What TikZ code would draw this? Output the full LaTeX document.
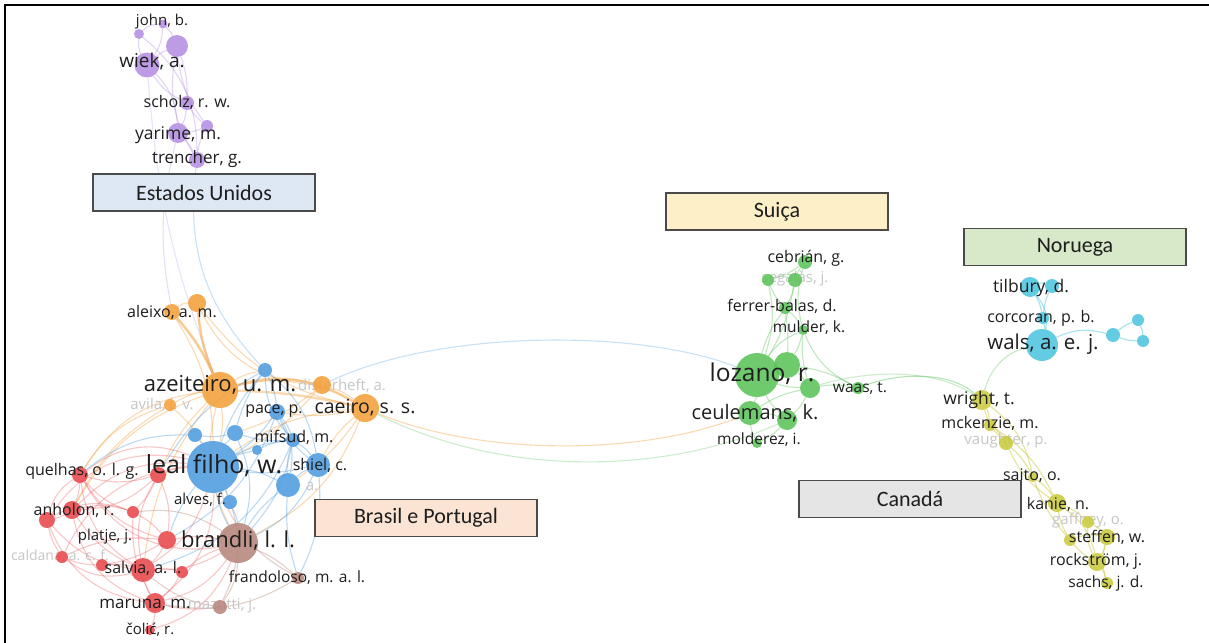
\documentclass[tikz,border=0pt]{standalone}
\usepackage{fontspec}
\newfontfamily\labfont{Open Sans}
\newfontfamily\boxfont{Carlito}
\pgfdeclarelayer{paper}
\pgfdeclarelayer{edges}
\pgfdeclarelayer{faint}
\pgfsetlayers{paper,edges,faint,main}

\definecolor{cpur}{HTML}{B48FE2}
\definecolor{cora}{HTML}{F4A03A}
\definecolor{cblu}{HTML}{4F9DE0}
\definecolor{cred}{HTML}{E8474C}
\definecolor{cbro}{HTML}{B7867A}
\definecolor{cgre}{HTML}{5CC35A}
\definecolor{ccya}{HTML}{4EC6E0}
\definecolor{cyel}{HTML}{CACA3E}
\definecolor{ink}{HTML}{1E1E1E}
\definecolor{fade}{HTML}{C6C6C6}
\definecolor{bxblue}{HTML}{DDE8F4}
\definecolor{bxyel}{HTML}{FDF0C9}
\definecolor{bxgreen}{HTML}{D8E9C9}
\definecolor{bxgray}{HTML}{E5E5E5}
\definecolor{bxpeach}{HTML}{FBE4D4}
\definecolor{bxline}{HTML}{4A4A4A}

\tikzset{
  vn/.style n args={2}{circle, inner sep=0pt, draw=none, fill=#1, fill opacity=0.88, minimum size=2*#2},
  lbl/.style={font=\labfont\fontsize{#1}{#1}\selectfont, text=ink, inner sep=0pt},
  dim/.style={font=\labfont\fontsize{#1}{#1}\selectfont, text=fade, inner sep=0pt},
  ed/.style={draw=#1, draw opacity=0.38, line width=1.1pt},
  thick ed/.style={draw=#1, draw opacity=0.55, line width=2.4pt},
  country/.style={draw=bxline, line width=1.1pt, minimum width=222pt, minimum height=37pt,
    inner sep=0pt, font=\boxfont\fontsize{22}{22}\selectfont, text=ink},
}

\begin{document}
\begin{tikzpicture}[x=1pt,y=-1pt]
\useasboundingbox (0,0) rectangle (1209,642);
\begin{pgfonlayer}{paper}
\fill[white] (0,0) rectangle (1209,642);
\end{pgfonlayer}

% ---------- nodes: purple cluster
\node[vn={cpur}{5}]   (pJ1)  at (139,34) {};
\node[vn={cpur}{4.5}] (pJ2)  at (163,24) {};
\node[vn={cpur}{11}]  (pW2)  at (177,46) {};
\node[vn={cpur}{12.5}](pWiek) at (147,65) {};
\node[vn={cpur}{7}]   (pSch) at (187,103) {};
\node[vn={cpur}{6}]   (pY2)  at (207,126) {};
\node[vn={cpur}{10}]  (pYar) at (178,133) {};
\node[vn={cpur}{8}]   (pTre) at (197,160) {};

% ---------- orange cluster
\node[vn={cora}{8}]  (oAl1) at (172,312) {};
\node[vn={cora}{9}]  (oAl2) at (197,303) {};
\node[vn={cora}{18}] (oAze) at (220,390) {};
\node[vn={cora}{6}]  (oAvi) at (170,405) {};
\node[vn={cora}{9}]  (oDis) at (322,385) {};
\node[vn={cora}{14}] (oCae) at (365,408) {};

% ---------- blue cluster
\node[vn={cblu}{26}] (bLeal) at (213,467) {};
\node[vn={cblu}{7}]  (b1)    at (265,370) {};
\node[vn={cblu}{8}]  (bPace) at (277,412) {};
\node[vn={cblu}{8}]  (b2)    at (235,433) {};
\node[vn={cblu}{7}]  (b3)    at (195,435) {};
\node[vn={cblu}{7}]  (bMif)  at (293,440) {};
\node[vn={cblu}{5}]  (b4)    at (257,450) {};
\node[vn={cblu}{12}] (bShi)  at (318,465) {};
\node[vn={cblu}{12}] (b5)    at (288,485) {};
\node[vn={cblu}{7}]  (bAlv)  at (230,502) {};

% ---------- red cluster
\node[vn={cred}{8}]  (rQue) at (80,475) {};
\node[vn={cred}{8}]  (rR1)  at (158,475) {};
\node[vn={cred}{9}]  (rAnh) at (72,510) {};
\node[vn={cred}{8}]  (rR2)  at (47,520) {};
\node[vn={cred}{6}]  (rR3)  at (133,512) {};
\node[vn={cred}{9}]  (rPla) at (167,540) {};
\node[vn={cred}{6}]  (rCal) at (62,557) {};
\node[vn={cred}{6}]  (rR4)  at (102,565) {};
\node[vn={cred}{12}] (rSal) at (143,570) {};
\node[vn={cred}{6}]  (rR5)  at (182,572) {};
\node[vn={cred}{10}] (rMar) at (155,603) {};
\node[vn={cred}{5}]  (rCol) at (150,630) {};

% ---------- brown cluster
\node[vn={cbro}{20}] (nBra) at (238,543) {};
\node[vn={cbro}{6}]  (nFra) at (298,578) {};
\node[vn={cbro}{7}]  (nMaz) at (220,607) {};

% ---------- green cluster
\node[vn={cgre}{7}]  (gCeb)  at (805,262) {};
\node[vn={cgre}{6}]  (gSeg1) at (768,280) {};
\node[vn={cgre}{7}]  (gSeg2) at (795,280) {};
\node[vn={cgre}{6}]  (gFer)  at (785,308) {};
\node[vn={cgre}{5}]  (gMul)  at (803,330) {};
\node[vn={cgre}{22}] (gLoz)  at (757,375) {};
\node[vn={cgre}{13}] (gL2)   at (787,365) {};
\node[vn={cgre}{10}] (gG3)   at (810,388) {};
\node[vn={cgre}{6}]  (gWaas) at (858,388) {};
\node[vn={cgre}{12}] (gCeu)  at (750,413) {};
\node[vn={cgre}{10}] (gC2)   at (787,420) {};
\node[vn={cgre}{5}]  (gMol)  at (757,443) {};

% ---------- cyan cluster
\node[vn={ccya}{10}] (cTil)  at (1030,287) {};
\node[vn={ccya}{7}]  (cT2)   at (1052,286) {};
\node[vn={ccya}{6}]  (cCor)  at (1043,318) {};
\node[vn={ccya}{16}] (cWals) at (1042,345) {};
\node[vn={ccya}{7}]  (cK1)   at (1113,335) {};
\node[vn={ccya}{6}]  (cK2)   at (1138,320) {};
\node[vn={ccya}{6}]  (cK3)   at (1143,341) {};

% ---------- yellow cluster
\node[vn={cyel}{10}] (yWri) at (982,400) {};
\node[vn={cyel}{6}]  (yMck) at (990,425) {};
\node[vn={cyel}{7}]  (yVau) at (1006,443) {};
\node[vn={cyel}{5}]  (ySai) at (1033,477) {};
\node[vn={cyel}{9}]  (yKan) at (1057,503) {};
\node[vn={cyel}{6}]  (yGaf) at (1088,522) {};
\node[vn={cyel}{6}]  (ySt1) at (1070,540) {};
\node[vn={cyel}{8}]  (ySt2) at (1107,537) {};
\node[vn={cyel}{9}]  (yRoc) at (1097,562) {};
\node[vn={cyel}{6}]  (ySac) at (1107,583) {};

% ---------- links
\begin{pgfonlayer}{edges}
\foreach \a/\b/\c in {pJ1/pJ2/20, pJ1/pWiek/-15, pJ2/pW2/10, pJ2/pWiek/15, pWiek/pW2/10,
  pWiek/pSch/-15, pW2/pSch/10, pW2/pY2/-15, pSch/pYar/10, pSch/pY2/-10, pYar/pTre/10,
  pY2/pTre/-10, pWiek/pYar/20, pYar/pY2/-10, pJ1/pTre/25, pW2/pTre/-20}
  \draw[ed=cpur] (\a) to[bend left=\c] (\b);
\draw[ed=cblu, draw opacity=0.3] (pTre) to[bend right=25] (b1);
\draw[ed=cpur, draw opacity=0.3] (pYar) to[bend right=12] (oAl1);
\draw[ed=cpur, draw opacity=0.25] (pWiek) to[bend right=8] (oAze);

\foreach \a/\b/\c in {oAl1/oAl2/20, oAl2/oCae/-20, oAze/oDis/15, oDis/oCae/10,
  oAze/bLeal/10, oCae/bLeal/-15, oAze/oAvi/-10, oAvi/bLeal/10, oAze/b1/10, oCae/bPace/10,
  oAze/nBra/-20, oCae/b5/10, oCae/bShi/-10, oDis/bLeal/10, oAl1/bLeal/15, oAze/rQue/-25,
  oAze/rAnh/-20, oAze/rSal/-15, oAze/rR1/-10, oCae/nBra/20, oDis/b2/10, oAl2/oDis/-30,
  oAvi/rQue/-20, oAvi/rAnh/-15}
  \draw[ed=cora] (\a) to[bend left=\c] (\b);
\draw[thick ed=cora] (oAl1) to[bend left=8] (oAze);
\draw[thick ed=cora] (oAl2) to[bend right=8] (oAze);
\draw[thick ed=cora] (oAze) to[bend left=22] (oCae);
\draw[thick ed=cora, draw opacity=0.4] (oAze) to[bend left=5] (oCae);

\foreach \a/\b/\c in {bLeal/b1/10, bLeal/bPace/-10, bLeal/b2/5, bLeal/b3/-5, bLeal/bMif/10,
  bLeal/b4/5, bLeal/bShi/-10, bLeal/b5/10, bLeal/bAlv/5, b1/bPace/10, b1/b2/-10,
  bPace/bMif/10, bPace/bShi/-15, bMif/bShi/10, bMif/b5/-10, b2/b3/10, b4/bMif/10,
  b5/bShi/10, bAlv/nBra/10, bLeal/nBra/-10, bShi/nBra/20, b5/nBra/-10, bMif/nBra/15,
  b1/bShi/20, b3/rQue/-20, b2/bMif/-10, b1/bMif/-20, bPace/b5/20, bShi/nFra/15,
  b5/nFra/-10, bMif/rSal/25, b1/rR1/-15, bPace/rPla/20, bLeal/rPla/-10, b2/nBra/20}
  \draw[ed=cblu] (\a) to[bend left=\c] (\b);

\foreach \a/\b/\c in {rQue/rR1/-15, rQue/rAnh/10, rQue/rR2/-20, rAnh/rR2/10, rAnh/rR3/15,
  rAnh/rSal/-15, rR2/rCal/-10, rR2/rSal/-20, rR3/rPla/10, rPla/rSal/10, rCal/rR4/-10,
  rR4/rSal/10, rSal/rR5/10, rSal/rMar/-10, rMar/rCol/10, rR1/rPla/15, rR1/rSal/-20,
  rR1/rAnh/20, rQue/rSal/-25, rPla/nBra/10, rSal/nBra/-15, rMar/nBra/-20, rMar/nMaz/-10,
  rR5/nBra/10, rQue/bLeal/30, rAnh/bLeal/25, rR1/bLeal/10, rSal/bLeal/-20, rMar/bLeal/-25,
  rR2/bLeal/35, rCal/rPla/15, rR4/rPla/-10, rR3/rMar/-15, rR1/rR3/10, rQue/rR3/-15,
  rR2/rR3/25, rCal/rSal/-25, rR5/rMar/10, rQue/nBra/-35, rAnh/rMar/-30, rR2/rMar/-30,
  rCol/nBra/-25, rCal/bLeal/30, rQue/rPla/-20}
  \draw[ed=cred, draw opacity=0.3] (\a) to[bend left=\c] (\b);

\foreach \a/\b/\c in {nBra/nFra/10, nBra/nMaz/15, nMaz/rSal/15, nFra/bLeal/20,
  nMaz/bLeal/-25, nBra/rR3/-20, nFra/rMar/20}
  \draw[ed=cbro] (\a) to[bend left=\c] (\b);

% links between the Brazilian group and the Swiss group
\draw[ed=cblu, draw opacity=0.3] (oDis) .. controls (440,329) and (640,329) .. (gLoz);
\draw[ed=cora, draw opacity=0.4] (oCae) .. controls (480,456) and (640,456) .. (gCeu);
\draw[ed=cgre, draw opacity=0.3] (oCae) .. controls (500,476) and (660,476) .. (gC2);

\foreach \a/\b/\c in {gCeb/gSeg1/10, gCeb/gSeg2/-10, gSeg1/gSeg2/20, gSeg1/gFer/-10,
  gSeg2/gFer/10, gFer/gMul/10, gFer/gLoz/-10, gFer/gL2/5, gMul/gL2/10, gMul/gLoz/-15,
  gMul/gG3/-10, gMul/gWaas/-20, gLoz/gL2/10, gLoz/gG3/-10, gL2/gG3/10, gLoz/gCeu/10,
  gLoz/gC2/-10, gCeu/gC2/10, gCeu/gMol/-10, gG3/gWaas/10, gL2/gWaas/10, gCeu/gG3/10,
  gC2/gG3/-10, gSeg2/gLoz/10, gCeb/gMul/-15, gSeg1/gLoz/15, gC2/gMol/10}
  \draw[ed=cgre] (\a) to[bend left=\c] (\b);
\draw[ed=cgre, draw opacity=0.45] (gWaas) .. controls (900,372) and (950,372) .. (yWri);
\draw[ed=cgre, draw opacity=0.3] (gG3) .. controls (860,372) and (930,366) .. (yWri);
\draw[ed=cgre, draw opacity=0.35] (yWri) .. controls (990,370) and (1005,352) .. (cWals);

\foreach \a/\b/\c in {cTil/cT2/20, cTil/cCor/10, cT2/cCor/-10, cCor/cWals/10, cTil/cWals/25,
  cK1/cK2/10, cK1/cK3/-10, cK2/cK3/10, cWals/cK1/20}
  \draw[ed=ccya, draw opacity=0.5] (\a) to[bend left=\c] (\b);

\foreach \a/\b/\c in {yWri/yMck/10, yMck/yVau/10, yWri/yVau/-15, yVau/ySai/10, yVau/yKan/-15,
  ySai/yKan/10, yKan/yGaf/10, yKan/ySt1/-10, yGaf/ySt2/10, ySt1/ySt2/15, ySt1/yRoc/-10,
  ySt2/yRoc/10, yRoc/ySac/10, yGaf/yRoc/-15, yKan/yRoc/20, yWri/ySai/20, yMck/yKan/15,
  ySai/ySt1/-10, ySt2/ySac/-15}
  \draw[ed=cyel, draw opacity=0.5] (\a) to[bend left=\c] (\b);
\end{pgfonlayer}

% ---------- labels that are set back
\begin{pgfonlayer}{faint}
\node[dim=15] (tAvi) at (162,405) {avila, l. v.};
\node[dim=15] (tDis) at (342,386) {disterheft, a.};
\node[dim=15] (tA)   at (312,487) {a.};
\node[dim=14] (tCal) at (60,556) {caldana, a. c. f.};
\node[dim=15] (tMaz) at (222,606) {mazutti, j.};
\node[dim=15] (tSeg) at (795,279) {segalàs, j.};
\node[dim=15] (tVau) at (1006,441) {vaughter, p.};
\node[dim=15] (tGaf) at (1088,521) {gaffney, o.};
\end{pgfonlayer}

% ---------- labels
\node[lbl=15] (tJohn) at (162,22) {john, b.};
\node[lbl=19] (tWiek) at (152,62) {wiek, a.};
\node[lbl=16] (tSch)  at (187,102) {scholz, r. w.};
\node[lbl=17.5] (tYar) at (178,135) {yarime, m.};
\node[lbl=17] (tTre)  at (197,159) {trencher, g.};
\node[lbl=16] (tAle)  at (172,312) {aleixo, a. m.};
\node[lbl=22] (tAze)  at (220,385) {azeiteiro, u. m.};
\node[lbl=16] (tPace) at (274,411) {pace, p.};
\node[lbl=19.5] (tCae) at (365,408) {caeiro, s. s.};
\node[lbl=16] (tMif)  at (294,437) {mifsud, m.};
\node[lbl=25] (tLeal) at (214,466) {leal filho, w.};
\node[lbl=16] (tShi)  at (320,465) {shiel, c.};
\node[lbl=16] (tQue)  at (82,471) {quelhas, o. l. g.};
\node[lbl=16] (tAnh)  at (74,510) {anholon, r.};
\node[lbl=15] (tAlv)  at (200,500) {alves, f.};
\node[lbl=15] (tPla)  at (105,537) {platje, j.};
\node[lbl=22] (tBra)  at (238,541) {brandli, l. l.};
\node[lbl=16] (tSal)  at (143,568) {salvia, a. l.};
\node[lbl=15.5] (tFra) at (297,578) {frandoloso, m. a. l.};
\node[lbl=17] (tMar)  at (145,605) {maruna, m.};
\node[lbl=15] (tCol)  at (150,630) {čolić, r.};

\node[lbl=16] (tCeb)  at (806,258) {cebrián, g.};
\node[lbl=16] (tFer)  at (782,306) {ferrer-balas, d.};
\node[lbl=15.5] (tMul) at (809,328) {mulder, k.};
\node[lbl=24.5] (tLoz) at (762,374) {lozano, r.};
\node[lbl=15.5] (tWaas) at (860,388) {waas, t.};
\node[lbl=20] (tCeu)  at (755,413) {ceulemans, k.};
\node[lbl=15.5] (tMol) at (759,440) {molderez, i.};

\node[lbl=17.5] (tTil) at (1031,288) {tilbury, d.};
\node[lbl=16] (tCor)  at (1041,318) {corcoran, p. b.};
\node[lbl=20.5] (tWals) at (1043,344) {wals, a. e. j.};

\node[lbl=17.5] (tWri) at (979,400) {wright, t.};
\node[lbl=16] (tMck)  at (990,423) {mckenzie, m.};
\node[lbl=16] (tSai)  at (1032,476) {saito, o.};
\node[lbl=16] (tKan)  at (1058,504) {kanie, n.};
\node[lbl=16] (tSte)  at (1107,537) {steffen, w.};
\node[lbl=16] (tRoc)  at (1096,561) {rockström, j.};
\node[lbl=15.5] (tSac) at (1106,583) {sachs, j. d.};

% ---------- country boxes
\node[country, fill=bxblue]  (boxUS) at (204,192.5) {Estados Unidos};
\node[country, fill=bxyel]   (boxCH) at (777,211.5) {Suiça};
\node[country, fill=bxgreen] (boxNO) at (1075,247)  {Noruega};
\node[country, fill=bxgray]  (boxCA) at (910,499)   {Canadá};
\node[country, fill=bxpeach] (boxBR) at (426,518)   {Brasil e Portugal};

% ---------- frame
\draw[line width=2.4pt, line cap=rect] (5,642) -- (5,5) -- (1209,5);
\end{tikzpicture}
\end{document}
